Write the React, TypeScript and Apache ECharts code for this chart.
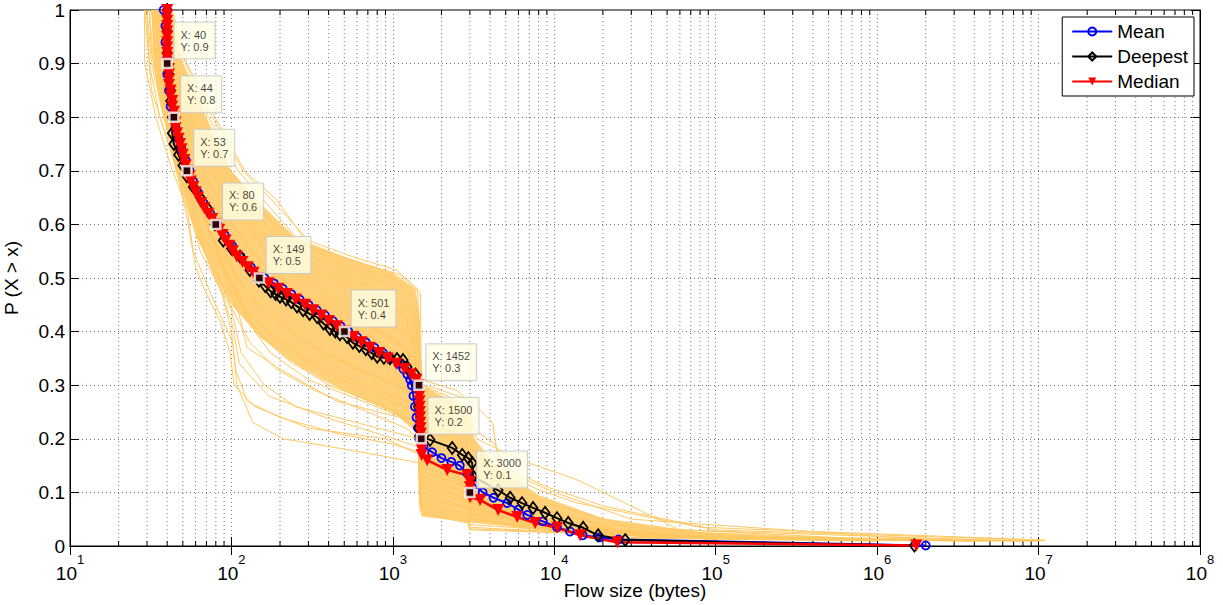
import React, { useEffect, useRef } from "react";
import * as echarts from "echarts";

const FONT = "'Liberation Sans', Arial, Helvetica, sans-serif";
const ORANGE = "#FFC862";
const BAND_FILL = "#FFD07A";

const X_DECADES = [10, 100, 1000, 10000, 100000, 1000000, 10000000];
const X_MINOR_MULTS = [2, 3, 4, 5, 6, 7, 8, 9];

const TIP_X = [40, 44, 53, 80, 149, 501, 1452, 1500, 3000];
const TIP_Y = [0.9, 0.8, 0.7, 0.6, 0.5, 0.4, 0.3, 0.2, 0.1];

const MEAN = [
  [38, 1.0], [39, 0.97], [39, 0.94], [40, 0.91], [40, 0.88], [41, 0.85], [42, 0.82], [44, 0.8],
  [45, 0.78], [47, 0.76], [49, 0.74], [52, 0.72], [55, 0.7], [58, 0.68], [62, 0.66], [67, 0.64],
  [74, 0.62], [82, 0.6], [91, 0.58], [101, 0.56], [114, 0.54], [132, 0.52], [160, 0.5], [183, 0.49],
  [208, 0.48], [235, 0.47], [265, 0.46], [300, 0.45], [338, 0.44], [380, 0.43], [425, 0.42],
  [475, 0.41], [530, 0.4], [600, 0.39], [680, 0.38], [770, 0.37], [870, 0.36], [970, 0.35],
  [1080, 0.34], [1160, 0.33], [1230, 0.32], [1280, 0.31], [1310, 0.3], [1340, 0.28], [1370, 0.26],
  [1400, 0.24], [1430, 0.22], [1460, 0.2], [1550, 0.185], [1750, 0.175], [2000, 0.164],
  [2300, 0.157], [2600, 0.15], [2900, 0.135], [3200, 0.115], [3600, 0.1], [4200, 0.09],
  [5100, 0.08], [6000, 0.068], [6800, 0.058], [8500, 0.046], [10400, 0.035], [12500, 0.027],
  [15000, 0.02], [19000, 0.016], [25000, 0.012], [2.0e6, 0.001],
];

const DEEPEST = [
  [40, 1.0], [40, 0.96], [40, 0.92], [41, 0.88], [42, 0.85], [42, 0.83], [43, 0.8], [43, 0.77],
  [44, 0.75], [47, 0.73], [50, 0.71], [53, 0.69], [58, 0.67], [64, 0.65], [71, 0.63], [79, 0.6],
  [89, 0.57], [100, 0.555], [113, 0.54], [130, 0.515], [148, 0.495], [162, 0.485], [175, 0.475],
  [188, 0.47], [200, 0.465], [218, 0.46], [235, 0.455], [255, 0.447], [278, 0.44], [305, 0.433],
  [340, 0.427], [372, 0.415], [408, 0.405], [440, 0.4], [470, 0.395], [520, 0.39], [566, 0.379],
  [620, 0.373], [680, 0.367], [740, 0.36], [800, 0.353], [880, 0.351], [960, 0.35], [1060, 0.349],
  [1156, 0.347], [1225, 0.334], [1380, 0.32], [1420, 0.3],
  [1440, 0.26], [1450, 0.22], [1460, 0.205], [1700, 0.198], [2330, 0.183], [2690, 0.17],
  [2930, 0.164], [3100, 0.155], [3140, 0.13], [4490, 0.104], [5330, 0.09], [6310, 0.08],
  [7390, 0.071], [8770, 0.062], [10400, 0.052], [12200, 0.043], [15100, 0.034], [18700, 0.02],
  [27500, 0.011], [1.7e6, 0.001],
];

const MEDIAN = [
  [40, 1.0], [40, 0.99], [40, 0.98], [40, 0.97], [40, 0.96], [40, 0.95], [40, 0.94], [40, 0.93],
  [40, 0.92], [40, 0.91], [40, 0.9], [41, 0.89], [41, 0.88], [41, 0.87], [41, 0.86], [42, 0.85],
  [42, 0.84], [43, 0.83], [43, 0.82], [44, 0.81], [44, 0.8], [45, 0.79], [45, 0.78], [46, 0.77],
  [47, 0.76], [48, 0.75], [49, 0.74], [50, 0.73], [51, 0.72], [52, 0.71], [53, 0.7], [55, 0.69],
  [56, 0.68], [58, 0.67], [60, 0.66], [62, 0.65], [65, 0.64], [68, 0.63], [72, 0.62], [76, 0.61],
  [80, 0.6], [84, 0.59], [88, 0.58], [92, 0.57], [97, 0.56], [102, 0.55], [108, 0.54], [117, 0.53],
  [126, 0.52], [137, 0.51], [149, 0.5], [170, 0.49], [195, 0.48], [220, 0.47], [250, 0.46],
  [285, 0.45], [320, 0.44], [360, 0.43], [400, 0.42], [450, 0.41], [501, 0.4], [570, 0.39],
  [640, 0.38], [720, 0.37], [820, 0.36], [930, 0.35], [1050, 0.34], [1180, 0.33], [1300, 0.32],
  [1400, 0.31], [1452, 0.3], [1456, 0.29], [1460, 0.28], [1463, 0.27], [1466, 0.26], [1470, 0.25],
  [1475, 0.24], [1480, 0.23], [1485, 0.22], [1492, 0.21], [1500, 0.2], [1502, 0.19], [1504, 0.18],
  [1507, 0.17], [1630, 0.16], [2170, 0.142], [2890, 0.132], [3000, 0.12], [3000, 0.11],
  [3000, 0.1], [3010, 0.091], [3470, 0.086], [4490, 0.067], [5890, 0.054], [7610, 0.043],
  [10400, 0.034], [14450, 0.02], [24500, 0.007], [1.75e6, 0.001],
];

const CORE_BAND = [
  [42, 1.0], [50, 0.9], [70, 0.8], [100, 0.7], [150, 0.64], [250, 0.575], [500, 0.54],
  [1000, 0.51], [1380, 0.48], [1470, 0.42], [1500, 0.3], [2200, 0.275], [2900, 0.255],
  [3200, 0.2], [4500, 0.145], [8000, 0.095], [20000, 0.052], [80000, 0.026], [1e6, 0.013],
  [1.1e7, 0.011], [1.1e7, 0.009], [1e6, 0.01], [1e5, 0.013], [30000, 0.02], [10000, 0.03],
  [4500, 0.04], [3000, 0.045], [1500, 0.055], [1460, 0.21], [1000, 0.25], [500, 0.29], [250, 0.34],
  [150, 0.39], [100, 0.45], [80, 0.5], [60, 0.58], [45, 0.7], [38, 0.8], [33, 0.9], [32, 1.0],
];

const U1 = [[43, 1], [53, 0.9], [79, 0.8], [121, 0.7], [192, 0.645], [307, 0.558], [600, 0.53], [1110, 0.506], [1480, 0.472], [1500, 0.3], [1800, 0.295], [3000, 0.272], [4150, 0.23], [4600, 0.14], [8100, 0.104], [14000, 0.08], [80000, 0.035], [1.1e7, 0.011]];
const U2 = [[41, 1], [50, 0.9], [72, 0.8], [110, 0.7], [175, 0.63], [280, 0.56], [520, 0.525], [1000, 0.5], [1400, 0.46], [1470, 0.3], [2200, 0.28], [3000, 0.25], [3300, 0.2], [6200, 0.16], [14000, 0.123], [60000, 0.03], [5e6, 0.011]];
const U3 = [[40, 1], [48, 0.9], [66, 0.8], [98, 0.7], [160, 0.62], [250, 0.555], [480, 0.515], [900, 0.49], [1350, 0.45], [1460, 0.33], [1500, 0.27], [2900, 0.24], [3100, 0.18], [5000, 0.14], [10000, 0.1], [30000, 0.05], [2e6, 0.012]];
const U4 = [[38, 1], [46, 0.9], [62, 0.8], [92, 0.7], [150, 0.61], [230, 0.55], [420, 0.51], [800, 0.48], [1300, 0.44], [1450, 0.3], [1500, 0.24], [2800, 0.22], [3000, 0.16], [4800, 0.12], [9000, 0.08], [30000, 0.035], [1e6, 0.012]];
const U5 = [[42, 1], [52, 0.9], [76, 0.8], [118, 0.7], [185, 0.64], [300, 0.57], [560, 0.54], [1050, 0.515], [1420, 0.48], [1480, 0.36], [1520, 0.31], [2500, 0.29], [2950, 0.27], [3100, 0.22], [4300, 0.19], [4700, 0.15], [9000, 0.11], [20000, 0.075], [100000, 0.03], [8e6, 0.012]];
const U6 = [[36, 1], [44, 0.9], [58, 0.8], [85, 0.7], [135, 0.6], [210, 0.54], [380, 0.5], [700, 0.47], [1200, 0.43], [1440, 0.32], [1490, 0.22], [2600, 0.2], [2950, 0.14], [4500, 0.105], [8000, 0.07], [25000, 0.03], [5e5, 0.012]];
const M1 = [[38, 1], [42, 0.9], [52, 0.8], [74, 0.7], [110, 0.62], [170, 0.55], [330, 0.48], [700, 0.42], [1200, 0.37], [1440, 0.3], [1470, 0.2], [2000, 0.17], [2900, 0.15], [3000, 0.1], [6000, 0.06], [20000, 0.025], [1e5, 0.012]];
const M2 = [[36, 1], [41, 0.9], [50, 0.8], [68, 0.7], [100, 0.6], [150, 0.53], [300, 0.46], [650, 0.4], [1150, 0.35], [1430, 0.28], [1460, 0.16], [2500, 0.13], [2950, 0.1], [3050, 0.07], [7000, 0.04], [30000, 0.016], [3e6, 0.01]];
const M3 = [[34, 1], [39, 0.9], [47, 0.8], [62, 0.7], [90, 0.6], [135, 0.52], [260, 0.44], [550, 0.38], [1000, 0.33], [1420, 0.26], [1450, 0.12], [2800, 0.09], [2950, 0.06], [6000, 0.035], [25000, 0.015], [1e6, 0.009]];
const M4 = [[40, 1], [44, 0.9], [56, 0.8], [80, 0.7], [125, 0.61], [200, 0.54], [400, 0.47], [800, 0.43], [1300, 0.39], [1460, 0.31], [1490, 0.19], [2400, 0.16], [2950, 0.13], [3000, 0.09], [5000, 0.07], [12000, 0.04], [50000, 0.02], [1e7, 0.01]];
const M5 = [[39, 1], [43, 0.9], [54, 0.8], [76, 0.7], [118, 0.6], [185, 0.53], [360, 0.46], [760, 0.41], [1250, 0.36], [1450, 0.27], [1480, 0.14], [3000, 0.11], [3100, 0.08], [9000, 0.05], [40000, 0.02], [8e5, 0.011]];
const M6 = [[35, 1], [40, 0.9], [49, 0.8], [66, 0.7], [96, 0.61], [145, 0.54], [280, 0.47], [600, 0.42], [1100, 0.38], [1440, 0.33], [1470, 0.22], [2300, 0.2], [2950, 0.17], [3050, 0.12], [4200, 0.1], [8000, 0.07], [20000, 0.04], [2e5, 0.015], [6e6, 0.01]];
const L1 = [[29, 1], [29, 0.9], [34, 0.8], [42, 0.71], [53, 0.63], [58, 0.55], [77, 0.46], [102, 0.38], [108, 0.3], [136, 0.23], [209, 0.2], [520, 0.18], [1480, 0.155], [1500, 0.06], [2900, 0.043], [3000, 0.03], [80000, 0.017], [1e7, 0.009]];
const L2 = [[30, 1], [31, 0.9], [36, 0.8], [44, 0.72], [55, 0.65], [62, 0.58], [80, 0.5], [100, 0.44], [115, 0.36], [160, 0.3], [250, 0.26], [600, 0.23], [1450, 0.2], [1480, 0.08], [2900, 0.06], [3000, 0.045], [20000, 0.02], [1e6, 0.01]];
const L3 = [[31, 1], [33, 0.9], [37, 0.82], [45, 0.74], [52, 0.68], [65, 0.6], [75, 0.55], [95, 0.5], [130, 0.42], [200, 0.36], [400, 0.3], [900, 0.26], [1440, 0.23], [1470, 0.1], [3000, 0.07], [3100, 0.05], [15000, 0.025], [4e5, 0.011]];
const L4 = [[32, 1], [35, 0.9], [40, 0.8], [48, 0.74], [57, 0.67], [70, 0.6], [90, 0.53], [105, 0.47], [140, 0.4], [240, 0.34], [500, 0.29], [1000, 0.25], [1450, 0.22], [1470, 0.13], [2900, 0.1], [3000, 0.07], [7000, 0.045], [30000, 0.02], [2e6, 0.01]];
const L5 = [[33, 1], [37, 0.9], [42, 0.8], [50, 0.72], [62, 0.64], [74, 0.58], [100, 0.52], [118, 0.45], [180, 0.39], [350, 0.33], [800, 0.28], [1440, 0.25], [1460, 0.15], [2700, 0.12], [3000, 0.085], [6000, 0.06], [25000, 0.025], [3e5, 0.012]];
const L6 = [[29, 1], [30, 0.95], [32, 0.85], [38, 0.78], [46, 0.7], [54, 0.6], [60, 0.52], [70, 0.47], [85, 0.42], [98, 0.36], [104, 0.3], [140, 0.26], [300, 0.22], [900, 0.2], [1470, 0.17], [1490, 0.07], [2950, 0.05], [3000, 0.035], [50000, 0.016], [5e6, 0.009]];
const L7 = [[34, 1], [38, 0.9], [44, 0.8], [52, 0.73], [60, 0.66], [78, 0.57], [92, 0.5], [112, 0.43], [125, 0.37], [200, 0.33], [450, 0.27], [1100, 0.24], [1450, 0.21], [1480, 0.11], [2950, 0.08], [3050, 0.06], [10000, 0.03], [1e5, 0.013]];
const L8 = [[35, 1], [38, 0.92], [43, 0.84], [49, 0.77], [58, 0.7], [68, 0.63], [88, 0.56], [110, 0.49], [160, 0.44], [280, 0.38], [600, 0.33], [1200, 0.29], [1440, 0.27], [1460, 0.18], [2600, 0.15], [2950, 0.12], [3000, 0.08], [5500, 0.065], [15000, 0.035], [1e5, 0.015], [3e6, 0.01]];
const L9 = [[33, 1], [36, 0.9], [41, 0.8], [47, 0.73], [55, 0.66], [66, 0.58], [82, 0.51], [98, 0.45], [130, 0.38], [190, 0.33], [330, 0.29], [700, 0.25], [1200, 0.22], [1450, 0.2], [1470, 0.09], [2950, 0.07], [3050, 0.05], [12000, 0.025], [2e5, 0.012]];
const L10 = [[30, 1], [32, 0.9], [38, 0.8], [46, 0.72], [56, 0.62], [64, 0.55], [85, 0.48], [100, 0.42], [112, 0.34], [170, 0.28], [380, 0.24], [800, 0.21], [1440, 0.185], [1460, 0.075], [2900, 0.055], [3000, 0.04], [40000, 0.017], [4e6, 0.009]];
const L11 = [[32, 1], [34, 0.9], [39, 0.82], [47, 0.75], [55, 0.69], [68, 0.62], [80, 0.55], [102, 0.49], [125, 0.42], [175, 0.36], [300, 0.31], [650, 0.27], [1150, 0.24], [1450, 0.23], [1470, 0.12], [2700, 0.09], [3000, 0.065], [9000, 0.035], [60000, 0.016], [2e6, 0.01]];
const L12 = [[36, 1], [39, 0.9], [45, 0.8], [54, 0.72], [63, 0.64], [80, 0.56], [96, 0.5], [120, 0.44], [170, 0.4], [290, 0.35], [560, 0.31], [1000, 0.28], [1430, 0.26], [1460, 0.14], [2800, 0.11], [3000, 0.08], [6500, 0.055], [20000, 0.028], [3e5, 0.012]];
const L13 = [[31, 1], [32, 0.92], [35, 0.86], [41, 0.79], [50, 0.7], [58, 0.62], [72, 0.53], [88, 0.47], [100, 0.4], [106, 0.33], [125, 0.27], [200, 0.24], [450, 0.21], [1000, 0.19], [1460, 0.175], [1480, 0.065], [2950, 0.045], [3000, 0.032], [1e5, 0.014], [8e6, 0.009]];
const L14 = [[37, 1], [41, 0.9], [47, 0.8], [56, 0.72], [70, 0.64], [86, 0.57], [104, 0.51], [135, 0.46], [210, 0.41], [380, 0.36], [750, 0.32], [1250, 0.29], [1440, 0.28], [1470, 0.17], [2500, 0.14], [2900, 0.11], [3050, 0.075], [6000, 0.05], [18000, 0.03], [1.5e5, 0.013]];

const ORANGE_LINES = [U1, U2, U3, U4, U5, U6, M1, M2, M3, M4, M5, M6, L1, L2, L3, L4, L5, L6, L7, L8, L9, L10, L11, L12, L13, L14];

export default function App() {
  const ref = useRef<HTMLDivElement>(null);
  useEffect(() => {
    if (!ref.current) return;
    const chart = echarts.init(ref.current, null, { renderer: "svg" });
    const minorTicks = X_DECADES.flatMap((d) => X_MINOR_MULTS.map((m) => [d * m, 0]));
    const gridSeries = {
      type: "custom",
      silent: true,
      data: minorTicks,
      renderItem: (params: any, api: any) => {
        const v = api.value(0);
        const b = api.coord([v, 0]);
        const t = api.coord([v, 1]);
        return {
          type: "group",
          children: [
            { type: "line", shape: { x1: b[0], y1: b[1], x2: t[0], y2: t[1] }, style: { stroke: "#777", lineWidth: 1, lineDash: [1, 3] } },
            { type: "line", shape: { x1: b[0], y1: b[1], x2: b[0], y2: b[1] - 5 }, style: { stroke: "#000", lineWidth: 1 } },
            { type: "line", shape: { x1: t[0], y1: t[1], x2: t[0], y2: t[1] + 5 }, style: { stroke: "#000", lineWidth: 1 } },
          ],
        };
      },
    };
    const bandSeries = {
      type: "custom",
      silent: true,
      data: CORE_BAND,
      renderItem: (params: any, api: any) => {
        if (params.dataIndex !== 0) return null;
        const pts = CORE_BAND.map((p) => api.coord(p));
        return { type: "polygon", shape: { points: pts }, style: { fill: BAND_FILL } };
      },
    };
    const orangeSeries = ORANGE_LINES.map((d) => ({
      type: "line",
      data: d,
      symbol: "none",
      silent: true,
      lineStyle: { color: ORANGE, width: 1 },
    }));
    const tipData = TIP_X.map((x, i) => [x, TIP_Y[i]]);
    const option: any = {
      animation: false,
      backgroundColor: "#fff",
      textStyle: { fontFamily: FONT },
      grid: {
        left: 70, right: 23, top: 10, bottom: 59,
        show: true, borderColor: "#000", borderWidth: 1,
        containLabel: false, outerBoundsMode: "none",
      },
      legend: {
        data: ["Mean", "Deepest", "Median"],
        orient: "vertical",
        right: 29,
        top: 17,
        padding: [5, 6, 5, 9],
        itemGap: 6,
        itemWidth: 40,
        itemHeight: 10,
        selectedMode: false,
        backgroundColor: "#fff",
        borderColor: "#000",
        borderWidth: 1,
        textStyle: { fontSize: 19, color: "#000", fontFamily: FONT },
      },
      xAxis: [
        {
          type: "log",
          logBase: 10,
          min: 10,
          max: 1e8,
          splitNumber: 7,
          name: "Flow size (bytes)",
          nameLocation: "middle",
          nameGap: 35,
          nameMoveOverlap: false,
          nameTextStyle: { fontSize: 19, color: "#000", fontFamily: FONT },
          axisLine: { show: true, lineStyle: { color: "#000", width: 1 } },
          axisTick: { show: true, inside: true, length: 9, lineStyle: { color: "#000" } },
          axisLabel: {
            margin: 7,
            formatter: (v: number) => `{b|10}{s|${Math.round(Math.log10(v))}}`,
            rich: {
              b: { fontSize: 19, color: "#000", fontFamily: FONT, lineHeight: 30, verticalAlign: "bottom" },
              s: { fontSize: 13, color: "#000", fontFamily: FONT, lineHeight: 30, verticalAlign: "top" },
            },
          },
          splitLine: { show: true, lineStyle: { color: "#777", type: [1, 3], width: 1 } },
        },
        {
          type: "log",
          logBase: 10,
          min: 10,
          max: 1e8,
          splitNumber: 7,
          position: "top",
          axisLine: { show: true, lineStyle: { color: "#000" } },
          axisTick: { show: true, inside: true, length: 9, lineStyle: { color: "#000" } },
          axisLabel: { show: false },
          splitLine: { show: false },
        },
      ],
      yAxis: [
        {
          type: "value",
          min: 0,
          max: 1,
          interval: 0.1,
          name: "P (X > x)",
          nameLocation: "middle",
          nameGap: 49,
          nameMoveOverlap: false,
          nameTextStyle: { fontSize: 19, color: "#000", fontFamily: FONT },
          axisLine: { show: true, lineStyle: { color: "#000" } },
          axisTick: { show: true, inside: true, length: 9, lineStyle: { color: "#000" } },
          axisLabel: {
            margin: 5,
            fontSize: 19,
            color: "#000",
            fontFamily: FONT,
            formatter: (v: number) => (v === 0 ? "0" : v === 1 ? "1" : v.toFixed(1)),
          },
          splitLine: { show: true, lineStyle: { color: "#777", type: [1, 3], width: 1 } },
        },
        {
          type: "value",
          min: 0,
          max: 1,
          interval: 0.1,
          position: "right",
          axisLine: { show: true, lineStyle: { color: "#000" } },
          axisTick: { show: true, inside: true, length: 9, lineStyle: { color: "#000" } },
          axisLabel: { show: false },
          splitLine: { show: false },
        },
      ],
      series: [
        gridSeries,
        bandSeries,
        ...orangeSeries,
        {
          name: "Mean",
          type: "line",
          data: MEAN,
          symbol: "circle",
          symbolSize: 8,
          lineStyle: { color: "#0000FF", width: 2 },
          itemStyle: { color: "rgba(255,255,255,0)", borderColor: "#0000FF", borderWidth: 1.8 },
        },
        {
          name: "Deepest",
          type: "line",
          data: DEEPEST,
          symbol: "diamond",
          symbolSize: [9, 12],
          lineStyle: { color: "#000000", width: 2 },
          itemStyle: { color: "rgba(255,255,255,0)", borderColor: "#000000", borderWidth: 1.8 },
        },
        {
          name: "Median",
          type: "line",
          data: MEDIAN,
          symbol: "triangle",
          symbolRotate: 180,
          symbolSize: 12,
          lineStyle: { color: "#FF0000", width: 2.5 },
          itemStyle: { color: "#FF0000" },
        },
        {
          type: "scatter",
          data: tipData,
          symbol: "rect",
          symbolSize: 9,
          z: 10,
          itemStyle: { color: "#000", borderColor: "#fff", borderWidth: 2.5 },
          label: {
            show: true,
            position: "right",
            distance: 1.5,
            offset: [0, -23],
            align: "left",
            verticalAlign: "middle",
            formatter: (p: any) => `X: ${p.value[0]}\nY: ${p.value[1]}`,
            fontSize: 11,
            lineHeight: 12,
            fontFamily: FONT,
            color: "#111",
            backgroundColor: "#FFFFE6",
            borderColor: "#C4C4C4",
            borderWidth: 1,
            padding: [7, 6, 5, 6],
          },
        },
      ],
    };
    chart.setOption(option);
    return () => chart.dispose();
  }, []);
  return <div ref={ref} style={{ position: "fixed", left: 0, top: 0, width: 1223, height: 605 }} />;
}
